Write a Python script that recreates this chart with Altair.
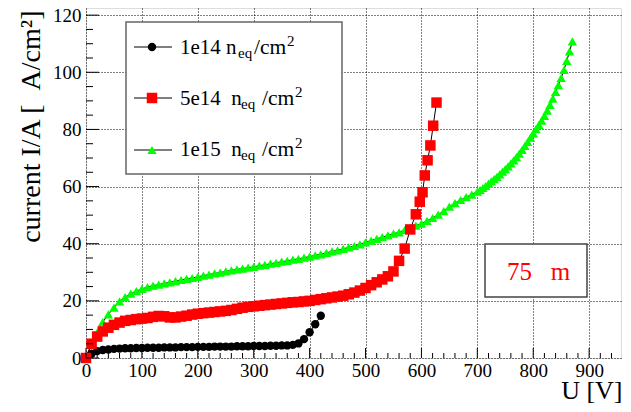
import altair as alt
import pandas as pd

# ---------------- data ----------------
U_1e14 = list(range(0, 421, 10))
I_1e14 = [0.0, 1.5, 2.4, 2.8, 3.0, 3.2, 3.3, 3.4, 3.4, 3.5, 3.5, 3.6, 3.6, 3.6, 3.7,
          3.7, 3.7, 3.8, 3.8, 3.8, 3.9, 3.9, 3.9, 4.0, 4.0, 4.0, 4.0, 4.1, 4.1, 4.1,
          4.2, 4.2, 4.2, 4.3, 4.3, 4.4, 4.4, 4.6, 5.1, 6.6, 9.0, 11.8, 14.8]

U_5e14 = list(range(0, 591, 10)) + [597, 602, 606, 611, 616, 621, 627]
I_5e14 = [0.0, 5.0, 7.5, 9.3, 10.6, 11.6, 12.4, 13.0, 13.3, 13.6, 13.8, 14.0, 14.4,
          14.7, 14.6, 14.2, 14.2, 14.5, 14.8, 15.2, 15.5, 15.7, 15.9, 16.1, 16.3,
          16.5, 16.8, 17.2, 17.6, 17.9, 18.1, 18.3, 18.5, 18.7, 18.9, 19.1, 19.3,
          19.5, 19.6, 19.8, 20.0, 20.3, 20.6, 20.9, 21.2, 21.5, 21.8, 22.3, 22.9,
          23.6, 24.5, 25.5, 26.5, 27.5, 28.6, 30.3, 34.0, 38.3, 45.0, 50.3,
          54.7, 58.0, 63.9, 69.2, 74.4, 81.3, 89.4]

U_1e15 = list(range(0, 701, 10)) + list(range(705, 871, 5))
I_1e15 = [0.5, 4.8, 9.0, 12.6, 15.3, 17.6, 19.8, 21.3, 22.5, 23.4, 24.2, 24.8, 25.3,
          25.7, 26.1, 26.5, 26.9, 27.3, 27.7, 28.0, 28.4, 28.8, 29.2, 29.6, 29.9,
          30.3, 30.7, 31.0, 31.3, 31.6, 31.9, 32.3, 32.6, 33.0, 33.3, 33.7, 34.0,
          34.4, 34.7, 35.1, 35.5, 35.9, 36.3, 36.8, 37.3, 37.7, 38.2, 38.7, 39.2,
          39.8, 40.5, 41.1, 41.7, 42.3, 42.9, 43.5, 44.0, 44.8, 45.5, 46.3, 47.0,
          48.0, 49.0, 50.2, 51.4, 53.0, 54.2, 55.3, 56.3, 57.2, 58.2,
          58.8, 59.5, 60.2, 61.0, 61.8, 62.6, 63.4, 64.3, 65.2, 66.1, 67.1, 68.1,
          69.2, 70.3, 71.5, 72.8, 74.2, 75.6, 77.1, 78.6, 80.1, 81.6, 83.1, 84.7,
          86.6, 88.6, 90.8, 93.1, 95.5, 98.0, 100.8, 104.0, 107.3, 110.8]

series_names = ["1e14", "1e15", "5e14"]   # drawing order
series_colors = ["#000000", "#00ff00", "#ff0000"]
series_shapes = ["circle", "triangle-up", "square"]
series_sizes = [70, 110, 95]

x_ticks = [0, 100, 200, 300, 400, 500, 600, 700, 800, 900]
y_ticks = [0, 20, 40, 60, 80, 100, 120]
x_minor = list(range(0, 941, 20))
y_minor = list(range(0, 121, 5))

XMAX, YMAX = 957, 122.5
W, H = 535, 350
FONT = "Liberation Serif"
NB = "\u00a0"

rows = []
for name, us, ys in [("1e14", U_1e14, I_1e14), ("1e15", U_1e15, I_1e15), ("5e14", U_5e14, I_5e14)]:
    for u, i in zip(us, ys):
        rows.append({"U": u, "I": i, "series": name})
df = pd.DataFrame(rows)

xs = alt.Scale(domain=[0, XMAX], nice=False, zero=False)
ys = alt.Scale(domain=[0, YMAX], nice=False, zero=False)
xaxis = alt.Axis(values=x_ticks, grid=True, gridDash=[1, 2], gridColor="#000", gridOpacity=1,
                 ticks=False, domain=False, labelPadding=3, labelFlush=False,
                 labelFont=FONT, labelFontSize=19, labelColor="black",
                 title="U [V]", titleFont=FONT, titleFontSize=26, titleFontWeight="normal",
                 titleColor="black", titleX=W + 1, titleY=40, titleAlign="right",
                 titleBaseline="alphabetic")
yaxis = alt.Axis(values=y_ticks, grid=True, gridDash=[1, 2], gridColor="#000", gridOpacity=1,
                 ticks=False, domain=False, labelPadding=5, labelFlush=False,
                 labelFont=FONT, labelFontSize=19, labelColor="black",
                 title="current I/A [" + NB * 2 + "A/cm²]", titleFont=FONT, titleFontSize=28,
                 titleFontWeight="normal", titleColor="black", titleAngle=-90,
                 titleX=-55, titleY=2, titleAlign="right", titleBaseline="middle")

X = alt.X("U:Q", scale=xs, axis=xaxis)
Y = alt.Y("I:Q", scale=ys, axis=yaxis)

color_enc = alt.Color("series:N", scale=alt.Scale(domain=series_names, range=series_colors), legend=None)
shape_enc = alt.Shape("series:N", scale=alt.Scale(domain=series_names, range=series_shapes), legend=None)
size_enc = alt.Size("series:N", scale=alt.Scale(domain=series_names, range=series_sizes), legend=None)

lines = alt.Chart(df).mark_line(color="black", strokeWidth=1).encode(
    x=X, y=Y, detail="series:N", order="U:Q")

pts = alt.Chart(df).mark_point(filled=True, opacity=1).encode(
    x=X, y=Y, color=color_enc, shape=shape_enc, size=size_enc,
    order=alt.Order("ord:Q"),
).transform_calculate(ord="datum.series == '1e14' ? 0 : (datum.series == '1e15' ? 1 : 2)")

# inward ticks
xt_major = pd.DataFrame({"t": x_ticks})
xt_minor = pd.DataFrame({"t": [v for v in x_minor if v % 100 != 0]})
yt_major = pd.DataFrame({"t": y_ticks})
yt_minor = pd.DataFrame({"t": [v for v in y_minor if v % 20 != 0]})

def xtick(d, ln):
    return alt.Chart(d).mark_rule(color="black", strokeWidth=1).encode(
        x=alt.X("t:Q", scale=xs, axis=xaxis), y=alt.value(H), y2=alt.value(H - ln))

def ytick(d, ln):
    return alt.Chart(d).mark_rule(color="black", strokeWidth=1).encode(
        y=alt.Y("t:Q", scale=ys, axis=yaxis), x=alt.value(0), x2=alt.value(ln))

# legend (pixel positions relative to plot origin at 86,8)
OX, OY = 86, 8
leg_box = alt.Chart(pd.DataFrame({"a": [1]})).mark_rect(
    fill="white", stroke="#666", strokeWidth=1.5).encode(
    x=alt.value(126 - OX), x2=alt.value(342 - OX), y=alt.value(22 - OY), y2=alt.value(174 - OY))

leg_rows_y = [47, 98, 150]
leg_order = ["1e14", "5e14", "1e15"]
leg_line_df = pd.DataFrame({"x1": [134 - OX] * 3, "x2": [172 - OX] * 3,
                            "y": [v - OY for v in leg_rows_y]})
leg_lines = alt.Chart(leg_line_df).mark_rule(color="black", strokeWidth=1).encode(
    x=alt.X("x1:Q", scale=None, axis=None), x2="x2:Q", y=alt.Y("y:Q", scale=None, axis=None))
leg_pts_df = pd.DataFrame({"x": [152 - OX] * 3, "y": [v - OY for v in leg_rows_y],
                           "series": leg_order})
leg_pts = alt.Chart(leg_pts_df).mark_point(filled=True, opacity=1).encode(
    x=alt.X("x:Q", scale=None, axis=None), y=alt.Y("y:Q", scale=None, axis=None),
    color=color_enc, shape=shape_enc, size=size_enc)

leg_labels = ["1e14" + NB + "n", "5e14" + NB * 2 + "n", "1e15" + NB * 2 + "n"]
base_y = [53.5, 104.5, 155.5]
eq_x = [238, 241, 241]
cm_x = [254, 262, 262]
sq_x = [287, 295, 295]
txt_rows = []
for lab, by, ex, cx, sx in zip(leg_labels, base_y, eq_x, cm_x, sq_x):
    txt_rows.append({"x": 180 - OX, "y": by - OY, "t": lab, "fs": 21})
    txt_rows.append({"x": ex - OX, "y": by + 4.5 - OY, "t": "eq", "fs": 15})
    txt_rows.append({"x": cx - OX, "y": by - OY, "t": "/cm", "fs": 21.5})
    txt_rows.append({"x": sx - OX, "y": by - 8 - OY, "t": "2", "fs": 15})
leg_text = alt.Chart(pd.DataFrame(txt_rows)).mark_text(
    font=FONT, align="left", baseline="alphabetic", color="black").encode(
    x=alt.X("x:Q", scale=None, axis=None), y=alt.Y("y:Q", scale=None, axis=None),
    text="t:N", size=alt.Size("fs:Q", scale=None, legend=None))

# "75 m" box
box = alt.Chart(pd.DataFrame({"a": [1]})).mark_rect(
    fill="white", stroke="#444", strokeWidth=1.5).encode(
    x=alt.value(485 - OX), x2=alt.value(587 - OX), y=alt.value(244 - OY), y2=alt.value(297 - OY))
box_text = alt.Chart(pd.DataFrame({"t": ["75" + NB * 3 + "m"]})).mark_text(
    font=FONT, fontSize=25, align="left", baseline="middle", color="#ff0000").encode(
    x=alt.value(507 - OX), y=alt.value(272 - OY), text="t:N")

chart = alt.layer(
    lines, pts,
    xtick(xt_major, 10), xtick(xt_minor, 5), ytick(yt_major, 13), ytick(yt_minor, 7),
    leg_box, leg_lines, leg_pts, leg_text, box, box_text,
).properties(
    width=W, height=H,
    autosize=alt.AutoSizeParams(type="none"),
    padding={"left": 78, "top": 0, "right": 2, "bottom": 46},
).configure_view(stroke="black", strokeWidth=1.2).configure(background="white")

chart.save("out.html", embed_options={"renderer": "svg", "actions": False})
